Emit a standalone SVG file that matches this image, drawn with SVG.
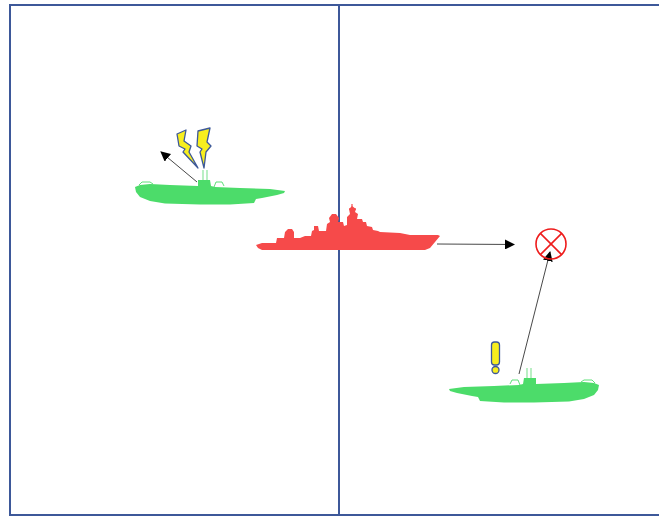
<svg xmlns="http://www.w3.org/2000/svg" width="659" height="516" viewBox="0 0 659 516">
  <defs>
    <style>
      .frame { stroke: #3d5899; stroke-width: 2; fill: none; }
      .sub { fill: #4cdc6a; }
      .mast { stroke: #8be59c; stroke-width: 1.2; fill: none; }
      .rail { stroke: #4cdc6a; stroke-width: 0.9; fill: none; }
      .ship { fill: #f64a4a; }
      .alert { fill: #f7ee1e; stroke: #3d5899; stroke-width: 1.3; stroke-linejoin: round; }
      .conn { stroke: #333; stroke-width: 0.9; fill: none; marker-end: url(#head); }
      .target { stroke: #ee1c1c; stroke-width: 1.6; fill: none; }
    </style>
    <marker id="head" viewBox="0 0 10 10" refX="9" refY="5" markerWidth="10" markerHeight="10" markerUnits="userSpaceOnUse" orient="auto">
      <path d="M0,0 L10,5 L0,10 Z" fill="#000"/>
    </marker>
    <!-- submarine silhouette, bow to the left -->
    <g id="submarine">
      <line class="mast" x1="203" y1="170" x2="203" y2="181"/>
      <line class="mast" x1="207" y1="170" x2="207" y2="181"/>
      <polyline class="rail" points="139,185 142,182 150,182 153,184"/>
      <polyline class="rail" points="214,187 216,182 222,182 224,186"/>
      <path class="sub" d="M135,187 L140,185 L150,184 L170,185 L198,186 L198,180 L210,180 L211,186 L215,187 L240,188 L270,189 L285,191 L284,193 L277,195 L262,198 L256,199 L254,203 L230,204.5 L200,204.5 L165,203.5 L150,201 L140,197 L136,192 Z"/>
    </g>
  </defs>

  <!-- frame and divider -->
  <g id="frame">
    <polyline class="frame" points="659,5 10,5 10,515 659,515"/>
    <line class="frame" x1="339" y1="5" x2="339" y2="515"/>
  </g>

  <!-- connectors -->
  <g id="connectors">
    <line class="conn" x1="197" y1="182" x2="161" y2="152"/>
    <line class="conn" x1="437" y1="244" x2="514" y2="244.5"/>
    <line class="conn" x1="519" y1="374" x2="550" y2="252"/>
  </g>

  <!-- submarine, top left -->
  <g id="sub-left">
    <use href="#submarine"/>
    <path class="alert" d="M177,134 L186,130 L184,141 L191,146 L189,152 L198,168 L183,152 L185,149 L179,146 Z"/>
    <path class="alert" d="M198,131 L210,128 L207,142 L211,146 L206,152 L204,168 L200,152 L202,149 L197,146 Z"/>
  </g>

  <!-- warship, centre -->
  <g id="warship">
    <path class="ship" d="M256,245 L262,243 L276,243 L277,238 L284,238 L285,232 L288,229 L292,229 L294,232 L294,238 L300,238 L305,236 L311,236 L312,231 L314,230 L314,226 L318,226 L319,231 L326,231 L327,224 L330,222 L329,218 L332,214 L336,214 L339,218 L338,222 L343,222 L344,226 L347,225 L347,217 L350,214 L349,209 L352,206 L356,209 L355,212 L358,214 L357,219 L362,219 L363,222 L366,222 L367,226 L372,227 L373,230 L378,231 L380,232 L400,233 L410,235 L438,235 L440,236 L430,248 L425,250 L262,250 L258,248 Z"/>
    <line x1="352" y1="204" x2="352" y2="212" stroke="#f64a4a" stroke-width="1.2"/>
    <line x1="349" y1="209" x2="356" y2="209" stroke="#f64a4a" stroke-width="1.2"/>
  </g>

  <!-- target marker -->
  <g id="target">
    <circle class="target" cx="551" cy="244" r="15"/>
    <line class="target" x1="540.4" y1="233.4" x2="561.6" y2="254.6"/>
    <line class="target" x1="561.6" y1="233.4" x2="540.4" y2="254.6"/>
  </g>

  <!-- submarine, bottom right (mirrored) -->
  <g id="sub-right">
    <use href="#submarine" transform="translate(734,198) scale(-1,1)"/>
    <rect class="alert" x="491.5" y="342" width="8" height="23" rx="3"/>
    <circle class="alert" cx="495.5" cy="370" r="3.5"/>
  </g>
</svg>
